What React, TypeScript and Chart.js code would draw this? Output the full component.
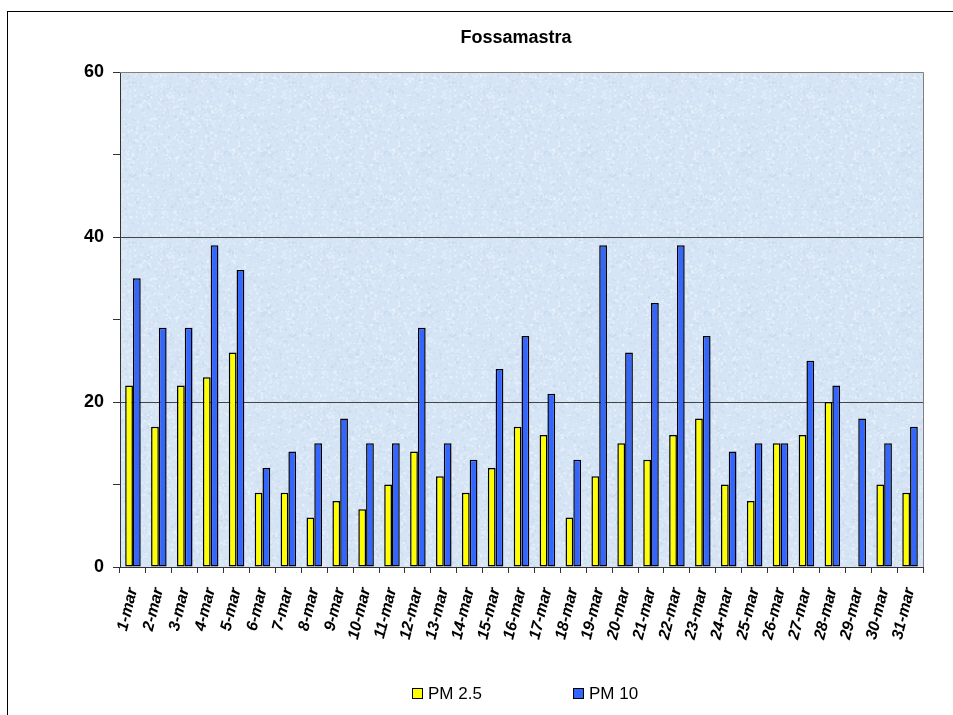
import React, { useEffect, useRef } from "react";
import { Chart, registerables } from "chart.js";

Chart.register(...registerables);

const categories = [
  "1-mar", "2-mar", "3-mar", "4-mar", "5-mar", "6-mar", "7-mar", "8-mar", "9-mar", "10-mar",
  "11-mar", "12-mar", "13-mar", "14-mar", "15-mar", "16-mar", "17-mar", "18-mar", "19-mar", "20-mar",
  "21-mar", "22-mar", "23-mar", "24-mar", "25-mar", "26-mar", "27-mar", "28-mar", "29-mar", "30-mar", "31-mar",
];

const pm25: (number | null)[] = [
  22, 17, 22, 23, 26, 9, 9, 6, 8, 7,
  10, 14, 11, 9, 12, 17, 16, 6, 11, 15,
  13, 16, 18, 10, 8, 15, 16, 20, null, 10, 9,
];

const pm10: number[] = [
  35, 29, 29, 39, 36, 12, 14, 15, 18, 15,
  15, 29, 15, 13, 24, 28, 21, 13, 39, 26,
  32, 39, 28, 14, 15, 15, 25, 22, 18, 15, 17,
];

const yLabeledTicks = [0, 20, 40, 60];
const titleText = "Fossamastra";

function makePattern(ctx: CanvasRenderingContext2D): CanvasPattern | string {
  const c = document.createElement("canvas");
  c.width = 160;
  c.height = 160;
  const g = c.getContext("2d");
  if (!g) return "#d8e6f4";
  g.fillStyle = "#d5e5f5";
  g.fillRect(0, 0, 160, 160);
  let s = 12345;
  const rnd = () => {
    s = (s * 1103515245 + 12345) & 0x7fffffff;
    return s / 0x7fffffff;
  };
  for (let i = 0; i < 2400; i++) {
    const x = rnd() * 160;
    const y = rnd() * 160;
    const t = rnd();
    if (t < 0.5) g.fillStyle = "rgba(242,247,253,0.55)";
    else if (t < 0.85) g.fillStyle = "rgba(190,210,232,0.45)";
    else g.fillStyle = "rgba(225,215,235,0.4)";
    g.fillRect(x, y, 1 + rnd() * 1.5, 1 + rnd() * 1.5);
  }
  return ctx.createPattern(c, "repeat") || "#d8e6f4";
}

const decorPlugin = {
  id: "decor",
  beforeDraw(chart: any) {
    const { ctx, chartArea } = chart;
    ctx.save();
    ctx.fillStyle = "#ffffff";
    ctx.fillRect(0, 0, chart.width, chart.height);
    ctx.strokeStyle = "#000";
    ctx.lineWidth = 1;
    ctx.strokeRect(7.5, 11.5, chart.width + 20, chart.height + 20);
    ctx.fillStyle = makePattern(ctx);
    ctx.fillRect(chartArea.left, chartArea.top, chartArea.right - chartArea.left, chartArea.bottom - chartArea.top);
    ctx.restore();
  },
  afterDraw(chart: any) {
    const { ctx, chartArea } = chart;
    ctx.save();
    ctx.strokeStyle = "#808080";
    ctx.lineWidth = 1;
    ctx.beginPath();
    ctx.moveTo(chartArea.left, Math.round(chartArea.top) + 0.5);
    ctx.lineTo(Math.round(chartArea.right) + 0.5, Math.round(chartArea.top) + 0.5);
    ctx.lineTo(Math.round(chartArea.right) + 0.5, chartArea.bottom);
    ctx.stroke();
    // title
    ctx.fillStyle = "#000";
    ctx.font = "bold 18px 'Liberation Sans', Arial, sans-serif";
    ctx.textAlign = "center";
    ctx.textBaseline = "middle";
    ctx.fillText(titleText, 516, 38);
    // legend
    ctx.font = "17px 'Liberation Sans', Arial, sans-serif";
    ctx.textAlign = "left";
    const ly = 693;
    const items = chart.data.datasets.map((d: any, i: number) => ({
      label: d.label,
      color: d.backgroundColor,
      x: i === 0 ? 412 : 573,
    }));
    items.forEach((it: any) => {
      ctx.fillStyle = it.color;
      ctx.fillRect(it.x, ly - 5, 10, 10);
      ctx.strokeStyle = "#000";
      ctx.strokeRect(it.x + 0.5, ly - 5 + 0.5, 10, 10);
      ctx.fillStyle = "#000";
      ctx.fillText(it.label, it.x + 16, ly + 1);
    });
    ctx.restore();
  },
};

export default function App() {
  const ref = useRef<HTMLCanvasElement | null>(null);

  useEffect(() => {
    if (!ref.current) return;
    const chart = new Chart(ref.current, {
      type: "bar",
      data: {
        labels: categories,
        datasets: [
          {
            label: "PM 2.5",
            data: pm25,
            backgroundColor: "#ffff00",
            borderColor: "#000000",
            borderWidth: 1.5,
            borderSkipped: false,
            categoryPercentage: 0.6,
            barPercentage: 1.0,
          },
          {
            label: "PM 10",
            data: pm10,
            backgroundColor: "#3366ff",
            borderColor: "#000000",
            borderWidth: 1.5,
            borderSkipped: false,
            categoryPercentage: 0.6,
            barPercentage: 1.0,
          },
        ],
      },
      options: {
        responsive: false,
        animation: false,
        layout: { padding: { left: 0, top: 72, right: 30, bottom: 0 } },
        plugins: {
          legend: { display: false },
          title: { display: false },
          tooltip: { enabled: false },
        },
        scales: {
          x: {
            afterFit: (scale: any) => {
              scale.height = 148;
            },
            grid: {
              offset: true,
              color: "transparent",
              tickColor: "#333",
              tickLength: 6,
              drawTicks: true,
            },
            border: { display: true, color: "#333", width: 1 },
            ticks: {
              autoSkip: false,
              minRotation: 76,
              maxRotation: 76,
              padding: 13,
              color: "#000",
              font: { family: "'Liberation Sans', Arial, sans-serif", size: 16, style: "italic", weight: "bold" },
            },
          },
          y: {
            min: 0,
            max: 60,
            afterFit: (scale: any) => {
              scale.width = 120;
            },
            grid: {
              color: (c: any) => {
                const v = c.tick ? c.tick.value : 0;
                return v === 20 || v === 40 ? "#444" : "transparent";
              },
              tickColor: "#333",
              tickLength: 7,
            },
            border: { display: true, color: "#333", width: 1 },
            ticks: {
              stepSize: 10,
              padding: 9,
              color: "#000",
              font: { family: "'Liberation Sans', Arial, sans-serif", size: 18, weight: "bold" },
              callback: (v: any) => (yLabeledTicks.includes(Number(v)) ? String(v) : ""),
            },
          },
        },
      },
      plugins: [decorPlugin],
    });
    return () => chart.destroy();
  }, []);

  return (
    <div style={{ position: "fixed", left: 0, top: 0, width: 953, height: 715 }}>
      <canvas ref={ref} width={953} height={715} />
    </div>
  );
}
